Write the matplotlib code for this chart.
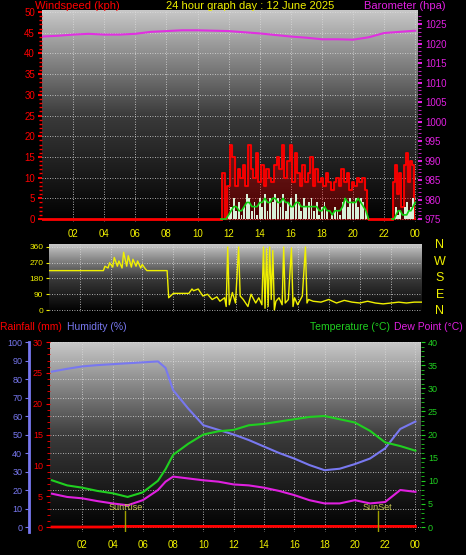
import numpy as np
import matplotlib
matplotlib.use("Agg")
import matplotlib.pyplot as plt
from matplotlib.colors import LinearSegmentedColormap

plt.rcParams['font.family'] = ['Liberation Sans', 'DejaVu Sans']
plt.rcParams['font.size'] = 7

# ---------------- data ----------------
baro_h = [0, 1, 2, 3, 4, 5, 6, 7, 8, 9, 10, 11, 12, 13, 14, 15, 16, 17, 18, 19, 20, 21, 22, 23, 24]
baro_v = [1021.8, 1022.0, 1022.3, 1022.5, 1022.3, 1022.3, 1022.5, 1023.0, 1023.2, 1023.4, 1023.4, 1023.3, 1023.2,
          1022.9, 1022.6, 1022.2, 1021.8, 1021.5, 1021.1, 1021.1, 1021.0, 1021.6, 1022.7, 1023.0, 1023.3]

gust_a = [0, 11, 0, 8, 18, 15, 8, 12, 10, 13, 8, 18, 12, 10, 16, 9, 13, 8, 12, 10, 9, 13, 15, 12, 18, 10, 14, 18,
          9, 16, 11, 8, 13, 9, 11, 15, 8, 12, 9, 10, 8, 11, 9, 7, 9, 10, 8, 12, 9, 11, 7, 9, 8, 10, 9, 10, 7, 0]
gust_b = [0, 9, 13, 6, 11, 3, 13, 16, 9, 14, 13, 0]
speed_a = [0, 0, 0, 1, 3, 5, 2, 4, 1, 3, 6, 5, 2, 4, 1, 5, 3, 6, 2, 5, 4, 6, 5, 3, 6, 2, 4, 5,
           3, 6, 4, 2, 5, 3, 4, 5, 2, 4, 1, 3, 4, 2, 0, 1, 3, 2, 1, 4, 5, 3, 5, 4, 5, 3, 5, 4, 2, 0]
speed_b = [0, 0, 3, 1, 2, 0, 3, 4, 2, 3, 5, 0]
avg_a = [0, 0, 0, 1, 2, 3, 3, 2, 2, 3, 4, 4, 3, 3, 3, 4, 4, 5, 4, 4, 5, 5, 4, 4, 5, 4, 4, 3,
         3, 4, 4, 3, 3, 3, 3, 3, 3, 3, 2, 2, 3, 2, 2, 1, 2, 2, 2, 3, 5, 4, 4, 4, 4, 5, 4, 3, 2, 0]
avg_b = [0, 0, 1, 2, 2, 1, 1, 1, 2, 2, 3, 4]

dir_h = [0, 3.5, 3.6, 3.8, 3.9, 4.1, 4.2, 4.4, 4.5, 4.7, 4.8, 5.0, 5.1, 5.3, 5.4, 5.6, 5.7, 5.9, 6.0, 6.2, 6.3, 7.6, 7.7,
         8.0, 8.5, 9.0, 9.2, 9.3, 9.6, 9.9, 10.2, 10.5, 10.8, 11.0, 11.3, 11.4, 11.5, 11.6, 11.8, 12.0, 12.2, 12.3, 12.5,
         12.8, 13.0, 13.3, 13.5, 13.7, 13.8, 13.9, 14.0, 14.1, 14.2, 14.3, 14.4, 14.5, 14.6, 14.8, 15.0, 15.1, 15.2,
         15.4, 15.6, 15.7, 15.8, 16.0, 16.3, 16.5, 16.6, 16.7, 17.0, 17.5, 18.0, 18.5, 19.0, 19.5, 20.0, 20.5, 21.0,
         21.5, 22.0, 22.5, 23.0, 23.5, 24.0]
dir_v = [225, 225, 250, 240, 270, 245, 300, 250, 280, 240, 330, 250, 310, 245, 290, 250, 280, 240, 260, 235, 225, 225, 70,
         95, 95, 95, 120, 110, 120, 80, 90, 60, 75, 50, 70, 20, 360, 30, 100, 40, 360, 80, 60, 20, 90, 40, 70, 30,
         360, 10, 350, 20, 360, 60, 340, 0, 50, 70, 30, 360, 40, 60, 355, 20, 70, 30, 80, 360, 40, 60, 50, 45, 60,
         40, 55, 45, 40, 50, 40, 35, 40, 45, 40, 45, 45]

th_h = [0, 1, 2, 3, 4, 5, 6, 7, 7.5, 8, 9, 10, 11, 12, 13, 14, 15, 16, 17, 18, 19, 20, 21, 22, 23, 24]
temp_v = [10.1, 9.0, 8.5, 7.8, 7.3, 6.5, 7.5, 10.0, 12.5, 15.6, 18.0, 20.0, 20.7, 21.0, 22.0, 22.3, 22.8, 23.3, 23.8,
          24.0, 23.3, 22.6, 20.8, 18.3, 17.5, 16.5]
hum_v = [84, 85.5, 86.8, 87.5, 88, 88.5, 89, 89.5, 86, 74, 64, 55, 52.5, 50, 47, 43.5, 40, 37, 33.5, 30.7, 31.5, 34,
         37, 42.5, 53, 57]
dew_v = [7.2, 6.5, 6.2, 5.6, 5.1, 4.7, 5.8, 8.0, 9.8, 10.9, 10.5, 10.1, 9.8, 9.2, 9.0, 8.5, 7.8, 6.9, 5.8, 5.1, 5.1,
         5.8, 5.1, 5.4, 8.0, 7.6]
rain_h = [0, 4, 4.1, 24]
rain_v = [0.0, 0.0, 0.1, 0.1]
sun_h = [4.85, 21.5]
sun_t = ['SunRise', 'SunSet']

hour_ticks = [2, 4, 6, 8, 10, 12, 14, 16, 18, 20, 22, 24]
hour_labels = ['02', '04', '06', '08', '10', '12', '14', '16', '18', '20', '22', '00']

# ---------------- figure ----------------
W, H = 466, 555
fig = plt.figure(figsize=(W / 100, H / 100), dpi=100, facecolor='black')
grad = LinearSegmentedColormap.from_list('g', ['#000000', '#3a3a3a', '#c8c8c8'])
YEL = '#f0f000'


def box(l, t, r, b):
    return fig.add_axes([l / W, 1 - b / H, (r - l) / W, (b - t) / H])


def style(ax, ytks):
    ax.set_facecolor('black')
    ax.imshow(np.linspace(0, 1, 256).reshape(-1, 1), aspect='auto', cmap=grad, origin='lower',
              extent=[0, 1, 0, 1], transform=ax.transAxes, zorder=0)
    for s in ax.spines.values():
        s.set_visible(False)
    for x in hour_ticks:
        ax.axvline(x, color='#dddddd', lw=0.6, ls=(0, (1, 2)), zorder=1)
    for y in ytks:
        ax.axhline(y, color='#dddddd', lw=0.6, ls=(0, (1, 2)), zorder=1)


def hours(a, b, n):
    return np.linspace(a, b, n)


# Panel 1: wind + barometer
ax1 = box(42, 10, 418, 222)
ax1.set_xlim(0, 24.18)
ax1.set_ylim(-0.72, 50.5)
style(ax1, range(0, 51, 5))
ta = hours(11.5, 21.0, len(gust_a))
tb = hours(22.5, 24.0, len(gust_b))
ax1.step(ta, gust_a, color='red', lw=1.3, where='mid', zorder=2)
ax1.step(tb, gust_b, color='red', lw=1.3, where='mid', zorder=2)
ax1.fill_between(ta, gust_a, step='mid', color='red', alpha=0.3, zorder=2)
ax1.fill_between(tb, gust_b, step='mid', color='red', alpha=0.3, zorder=2)
ax1.bar(ta, speed_a, width=0.12, color='#d8f0d8', zorder=3)
ax1.bar(tb, speed_b, width=0.12, color='#d8f0d8', zorder=3)
ax1.plot([0, 11.5], [0, 0], color='red', lw=2, zorder=4)
ax1.plot([21.0, 22.5], [0, 0], color='red', lw=2, zorder=4)
ax1.plot(ta, avg_a, color='#10d010', lw=1.2, zorder=5)
ax1.plot(tb, avg_b, color='#10d010', lw=1.2, zorder=5)
ax1.set_yticks(range(0, 51, 5))
ax1.set_yticks(np.arange(0, 50.5, 1), minor=True)
ax1.tick_params(axis='y', colors='red', labelcolor='red', labelsize=7, length=3, width=1.5, pad=2)
ax1.tick_params(axis='y', which='minor', colors='red', length=2, width=1)
ax1.set_xticks(hour_ticks)
ax1.set_xticklabels(hour_labels)
ax1.tick_params(axis='x', colors='black', labelcolor=YEL, labelsize=7, length=2, pad=3)
axb = ax1.twinx()
axb.set_ylim(974.3, 1028.6)
axb.plot(baro_h, baro_v, color='#e030e0', lw=1.5, zorder=6)
axb.set_yticks(range(975, 1026, 5))
axb.set_yticks(range(975, 1028), minor=True)
axb.tick_params(axis='y', colors='#e020e0', labelcolor='#e020e0', labelsize=7, length=3, width=1.5, pad=2)
axb.tick_params(axis='y', which='minor', colors='#e020e0', length=2)
for s in axb.spines.values():
    s.set_visible(False)
fig.text(35 / W, 1 - 6 / H, 'Windspeed (kph)', color='red', fontsize=8, va='center')
fig.text(250 / W, 1 - 6 / H, '24 hour graph day : 12 June 2025', color=YEL, fontsize=8, va='center', ha='center')
fig.text(446 / W, 1 - 6 / H, 'Barometer (hpa)', color='#e020e0', fontsize=8, va='center', ha='right')

# Panel 2: wind direction
ax2 = box(49, 244, 422, 312)
ax2.set_xlim(0, 24)
ax2.set_ylim(-11.4, 377)
style(ax2, [0, 90, 180, 270, 360])
ax2.plot(dir_h, dir_v, color=YEL, lw=1, zorder=3)
ax2.set_yticks([0, 90, 180, 270, 360])
ax2.tick_params(axis='y', colors=YEL, labelcolor=YEL, labelsize=6, length=2, pad=2)
ax2.set_xticks([])
for i, c in enumerate('NWSEN'):
    fig.text(440 / W, 1 - (245 + i * 16.5) / H, c, color=YEL, fontsize=9, ha='center', va='center')

# Panel 3: temperature / humidity / dew / rain
ax3 = box(50, 342, 421, 532)
ax3.set_xlim(-0.13, 24.37)
ax3.set_ylim(-2.7, 100)
style(ax3, range(0, 101, 10))
ax3.plot(th_h, hum_v, color='#7878f0', lw=1.5, zorder=5)
ax3.set_yticks(range(0, 101, 10))
ax3.tick_params(axis='y', colors='#7878f0', labelcolor='#7878f0', labelsize=6.5, length=3, pad=2)
ax3.spines['left'].set_visible(True)
ax3.spines['left'].set_position(('outward', 15))
ax3.spines['left'].set_color('#7878f0')
ax3.spines['left'].set_linewidth(2)
ax3.set_xticks(hour_ticks)
ax3.set_xticklabels(hour_labels)
ax3.tick_params(axis='x', colors='black', labelcolor=YEL, labelsize=7, length=2, pad=4)

axr = ax3.twinx()
axr.set_ylim(-0.81, 30)
axr.yaxis.tick_left()
axr.plot(rain_h, rain_v, color='red', lw=2, zorder=6)
axr.set_yticks(range(0, 31, 5))
axr.set_yticks(range(0, 31, 1), minor=True)
axr.tick_params(axis='y', colors='red', labelcolor='red', labelsize=6.5, length=3, pad=2)
axr.tick_params(axis='y', which='minor', colors='red', length=2)
for s in axr.spines.values():
    s.set_visible(False)

axt = ax3.twinx()
axt.set_ylim(-1.08, 40)
axt.plot(th_h, temp_v, color='#20d020', lw=1.5, zorder=5)
axt.plot(th_h, dew_v, color='#e020e0', lw=1.5, zorder=5)
axt.set_yticks(range(0, 41, 5))
axt.set_yticks(range(0, 41, 1), minor=True)
axt.tick_params(axis='y', colors='#20d020', labelcolor='#20d020', labelsize=6.5, length=3, pad=2)
axt.tick_params(axis='y', which='minor', colors='#20d020', length=2)
for s in axt.spines.values():
    s.set_visible(False)
for h, t in zip(sun_h, sun_t):
    axt.plot([h, h], [-1.08, 3.5], color='#a0a000', lw=1, zorder=4)
    axt.text(h, 4.3, t, color='#c8c850', fontsize=6.5, ha='center', va='center', zorder=6)

fig.text(0, 1 - 327 / H, 'Rainfall (mm)', color='red', fontsize=7.5, va='center')
fig.text(67 / W, 1 - 327 / H, 'Humidity (%)', color='#7878f0', fontsize=7.5, va='center')
fig.text(390 / W, 1 - 327 / H, 'Temperature (°C)', color='#20d020', fontsize=7.5, va='center', ha='right')
fig.text(463 / W, 1 - 327 / H, 'Dew Point (°C)', color='#e020e0', fontsize=7.5, va='center', ha='right')

fig.savefig('out.png', dpi=100, facecolor='black')
